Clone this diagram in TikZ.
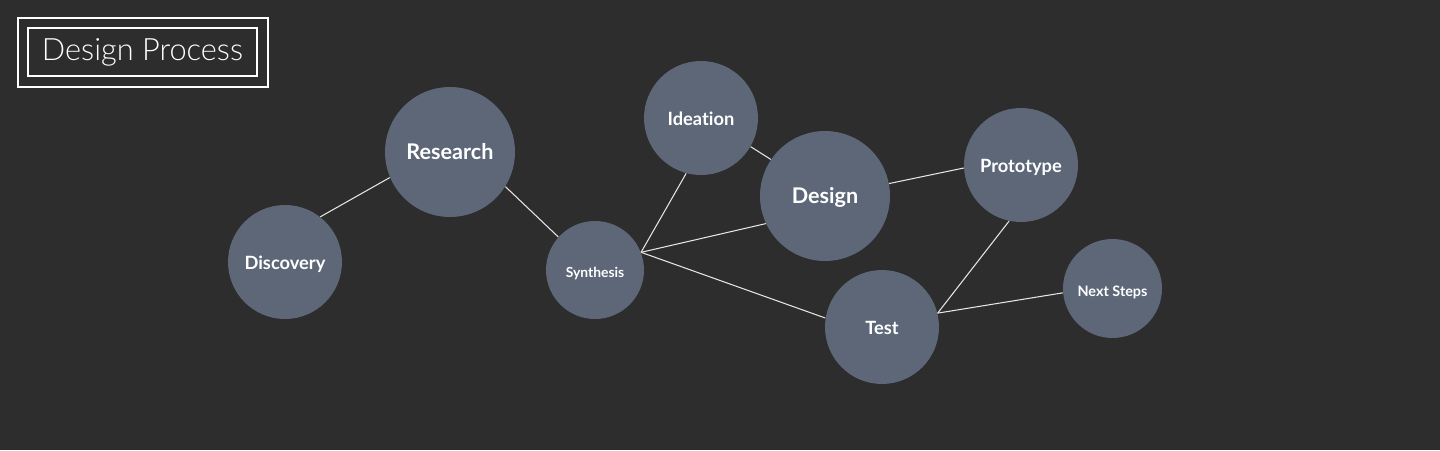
\documentclass[tikz,border=0pt]{standalone}
\usepackage{fontspec}
\setmainfont{Lato}
\newfontfamily\titlefont{Lato Light}
\definecolor{bgcol}{HTML}{2D2D2D}
\definecolor{bubblefill}{HTML}{5D6778}
\definecolor{wirecol}{HTML}{E6E6E6}
\tikzset{%
bubble/.style args={#1#2}{
    circle,fill=bubblefill,text=white,inner sep=0pt,
    text height=1.75ex,text depth=0pt,
    minimum size=#1,font=\bfseries\fontsize{#2}{#2}\selectfont
},
wire/.style={draw=wirecol,line width=0.6pt},
frame/.style={draw=white,line width=0.6pt},
}

\begin{document}
\begin{tikzpicture}[x=0.02cm,y=-0.02cm]
        \fill[bgcol] (0,0) rectangle (1440,450);
        % title
        \draw[frame] (18,18) rectangle (268,87);
        \node[frame,minimum width=4.58cm,minimum height=0.96cm,text=white,
              font=\titlefont\fontsize{17.5}{20}\selectfont] (T) at (142.5,52) {Design Process};
        % bubbles
        \node[bubble={2.28cm}{10.4}] (Disc) at (285,262) {Discovery};
        \node[bubble={2.6cm}{12.3}] (Res) at (450,152) {Research};
        \node[bubble={1.96cm}{7.9}] (Syn) at (595,270) {Synthesis};
        \node[bubble={2.28cm}{10.4}] (Idea) at (701,118) {Ideat\kern0pt ion};
        \node[bubble={2.6cm}{12.3}] (Des) at (825,196) {Design};
        \node[bubble={2.28cm}{10.4}] (Proto) at (1021,165) {Prototype};
        \node[bubble={2.28cm}{10.4}] (Test) at (882,327) {Test};
        \node[bubble={1.98cm}{8.2}] (Next) at (1112.5,288.5) {Next Steps};
        % links
        \draw[wire] (Disc.52) -- (Res.203);
        \draw[wire] (Res.328) -- (Syn.138);
        \draw[wire] (Syn.21) -- (Idea.255);
        \draw[wire] (Syn.21) -- (Des.205);
        \draw[wire] (Syn.21) -- (Test.171);
        \draw[wire] (Idea.330) -- (Des.146);
        \draw[wire] (Des.11) -- (Proto.183);
        \draw[wire] (Test.14) -- (Proto.258);
        \draw[wire] (Test.14) -- (Next.185);
\end{tikzpicture}
\end{document}
